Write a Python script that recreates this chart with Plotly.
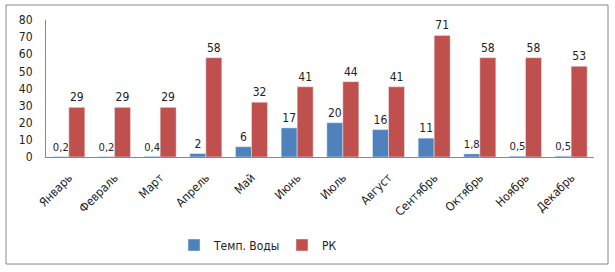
import plotly.graph_objects as go

months = ["Январь", "Февраль", "Март", "Апрель", "Май", "Июнь", "Июль",
          "Август", "Сентябрь", "Октябрь", "Ноябрь", "Декабрь"]
temp = [0.2, 0.2, 0.4, 2, 6, 17, 20, 16, 11, 1.8, 0.5, 0.5]
rk = [29, 29, 29, 58, 32, 41, 44, 41, 71, 58, 58, 53]
temp_labels = ["0,2", "0,2", "0,4", "2", "6", "17", "20", "16", "11", "1,8", "0,5", "0,5"]
rk_labels = [str(v) for v in rk]
y_ticks = [0, 10, 20, 30, 40, 50, 60, 70, 80]

font = "DejaVu Sans Condensed, DejaVu Sans, sans-serif"
fig = go.Figure()
fig.add_trace(go.Bar(x=months, y=temp, name="Темп. Воды", marker_color="#4F81BD",
                     text=temp_labels, textposition="outside", cliponaxis=False,
                     textfont=dict(size=12, color="#222"), legend="legend"))
fig.add_trace(go.Bar(x=months, y=rk, name="РК", marker_color="#C0504D",
                     text=rk_labels, textposition="outside", cliponaxis=False,
                     textfont=dict(size=12, color="#222"), legend="legend2"))

W, H = 615, 272
l, r, t, b = 46, 21, 20, 115
pw, ph = W - l - r, H - t - b

def px(x):
    return (x - l) / pw

def py(y):
    return (H - b - y) / ph

leg_common = dict(orientation="h", xanchor="left", yanchor="middle", y=py(245),
                  font=dict(size=12), itemwidth=30, bgcolor="rgba(0,0,0,0)")

fig.update_layout(
    width=W, height=H,
    margin=dict(l=l, r=r, t=t, b=b, autoexpand=False),
    paper_bgcolor="white", plot_bgcolor="white",
    barmode="group", bargap=0.3, bargroupgap=0,
    font=dict(family=font, size=12, color="#222"),
    showlegend=True,
    legend=dict(x=px(174), **leg_common),
    legend2=dict(x=px(282), **leg_common),
    xaxis=dict(showline=True, linecolor="#888", linewidth=1, ticks="", tickangle=-45,
               tickfont=dict(size=12), showgrid=False, automargin=False,
               ticklabelstandoff=8),
    yaxis=dict(range=[0, 80], tickvals=y_ticks, showline=True, linecolor="#888", linewidth=1,
               ticks="", showgrid=False, zeroline=False, tickfont=dict(size=12),
               automargin=False, ticklabelstandoff=10),
    shapes=[dict(type="rect", xref="paper", yref="paper",
                 x0=px(6), x1=px(608), y0=py(264), y1=py(5),
                 line=dict(color="#888", width=1), fillcolor="rgba(0,0,0,0)", layer="below")],
)
fig.write_html("out.html", post_script="document.body.style.margin='0';",
               config={"displayModeBar": False})
